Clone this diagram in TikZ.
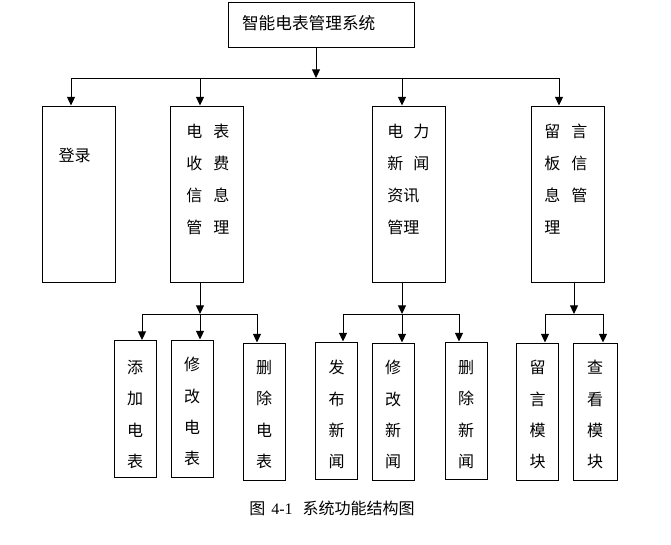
\documentclass[tikz,border=0pt]{standalone}
\usepackage{fontspec}
\setmainfont{Liberation Serif}
\newfontfamily\cjk{Noto Sans CJK SC}
\usetikzlibrary{arrows.meta}

\begin{document}
\begin{tikzpicture}[x=0.75pt,y=-0.75pt,
        caja/.style={draw,line width=0.75pt,inner sep=0pt},
        modulo/.style={caja,minimum width=54.75pt,minimum height=132pt},
        hijo/.style={caja,minimum width=31.5pt,minimum height=102.75pt},
        texto/.style={inner sep=0pt,align=left,font=\cjk\fontsize{12pt}{24pt}\selectfont},
        columna/.style={inner sep=0pt,anchor=north,align=center,font=\cjk\fontsize{12pt}{23.5pt}\selectfont},
        linea/.style={line width=0.75pt},
        flecha/.style={line width=0.75pt,-{Triangle[width=6pt,length=6.5pt]}}]

        \useasboundingbox (0,0) rectangle (671,544);

        % Raiz
        \node[caja,minimum width=139.5pt,minimum height=33.75pt,text width=118.5pt,align=left,
            font=\cjk\fontsize{12.5pt}{14pt}\selectfont] (sistema) at (321,24.5) {\raisebox{2.5pt}{智能电表管理系统}};

        % Primer nivel
        \node[modulo] (login) at (78.5,194) {};
        \node[modulo] (cobro) at (207,194) {};
        \node[modulo] (noticias) at (409,194) {};
        \node[modulo] (mensajes) at (567.5,194) {};

        \node[texto] (login-t) at (74.5,155) {登录};
        \node[texto,anchor=north west] (cobro-t) at (186,124)
            {电\hspace{8.25pt}表\\收\hspace{8.25pt}费\\信\hspace{8.25pt}息\\管\hspace{8.25pt}理};
        \node[texto,anchor=north west] (noticias-t) at (387,124)
            {电\hspace{7.5pt}力\\新\hspace{7.5pt}闻\\资讯\\管理};
        \node[texto,anchor=north west] (mensajes-t) at (544,124)
            {留\hspace{8.25pt}言\\板\hspace{8.25pt}信\\息\hspace{8.25pt}管\\理};

        % Segundo nivel
        \node[hijo] (anadir) at (135,409) {};
        \node[hijo] (editar) at (192,408.5) {};
        \node[hijo] (borrar) at (264,411.5) {};
        \node[hijo] (publicar) at (336.5,410.5) {};
        \node[hijo] (corregir) at (393,411.5) {};
        \node[hijo] (eliminar) at (466,410.5) {};
        \node[hijo] (dejar) at (537.5,411.5) {};
        \node[hijo,minimum width=33pt] (ver) at (595,411.5) {};

        \node[columna] (anadir-t) at (135,360) {添\\加\\电\\表};
        \node[columna] (editar-t) at (192,357) {修\\改\\电\\表};
        \node[columna] (borrar-t) at (264,360) {删\\除\\电\\表};
        \node[columna] (publicar-t) at (336.5,360) {发\\布\\新\\闻};
        \node[columna] (corregir-t) at (393,360) {修\\改\\新\\闻};
        \node[columna] (eliminar-t) at (466,360) {删\\除\\新\\闻};
        \node[columna] (dejar-t) at (537.5,360) {留\\言\\模\\块};
        \node[columna] (ver-t) at (595,360) {查\\看\\模\\块};

        % Conexiones arriba
        \coordinate (m0) at (316,78);
        \coordinate (m1) at (71,78);
        \coordinate (m2) at (200,78);
        \coordinate (m3) at (402,78);
        \coordinate (m4) at (559,78);
        \draw[flecha] (m0 |- sistema.south) -- (m0);
        \draw[linea] (m1) -- (m4);
        \draw[flecha] (m1) -- (m1 |- login.north);
        \draw[flecha] (m2) -- (m2 |- cobro.north);
        \draw[flecha] (m3) -- (m3 |- noticias.north);
        \draw[flecha] (m4) -- (m4 |- mensajes.north);

        % Conexiones abajo
        \coordinate (k1) at (142,314);
        \coordinate (k2) at (200,314);
        \coordinate (k3) at (257,314);
        \coordinate (k4) at (343,314);
        \coordinate (k5) at (402,314);
        \coordinate (k6) at (459,314);
        \coordinate (k7) at (545,314);
        \coordinate (k8) at (603,314);
        \coordinate (k9) at (574,314);
        \draw[flecha] (k2 |- cobro.south) -- (k2);
        \draw[flecha] (k5 |- noticias.south) -- (k5);
        \draw[flecha] (k9 |- mensajes.south) -- (k9);
        \draw[linea] (k1) -- (k3);
        \draw[linea] (k4) -- (k6);
        \draw[linea] (k7) -- (k8);
        \draw[flecha] (k1) -- (k1 |- anadir.north);
        \draw[flecha] (k2) -- (k2 |- editar.north);
        \draw[flecha] (k3) -- (k3 |- borrar.north);
        \draw[flecha] (k4) -- (k4 |- publicar.north);
        \draw[flecha] (k5) -- (k5 |- corregir.north);
        \draw[flecha] (k6) -- (k6 |- eliminar.north);
        \draw[flecha] (k7) -- (k7 |- dejar.north);
        \draw[flecha] (k8) -- (k8 |- ver.north);

        % Pie
        \node[font=\fontsize{12pt}{14pt}\selectfont] (pie) at (332,508)
            {{\cjk 图}\hspace{4.5pt}4-1\hspace{7.5pt}{\cjk 系统功能结构图}};
    \end{tikzpicture}
\end{document}
